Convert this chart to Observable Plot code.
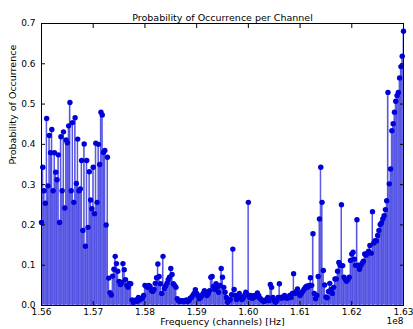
<!DOCTYPE html>
<html>
<head>
<meta charset="utf-8">
<script src="https://cdn.jsdelivr.net/npm/d3@7"></script>
<script src="https://cdn.jsdelivr.net/npm/@observablehq/plot@0.6"></script>
<style>
  html, body { margin: 0; padding: 0; background: #fff; }
  #chart { width: 413px; height: 329px; }
</style>
</head>
<body>
<div id="chart"></div>
<script>
const title = "Probability of Occurrence per Channel";
const xLabel = "Frequency (channels) [Hz]";
const yLabel = "Probability of Occurrence";
const offsetLabel = "1e8";

const channelStartHz = 156.0e6;
const channelWidthHz = 25e3;

const xTicks = [1.56, 1.57, 1.58, 1.59, 1.60, 1.61, 1.62, 1.63];
const yTicks = [0.0, 0.1, 0.2, 0.3, 0.4, 0.5, 0.6, 0.7];

const probability = [
  0.206,0.343,0.285,0.254,0.464,0.297,0.422,0.379,0.437,0.285,
  0.379,0.331,0.312,0.374,0.206,0.419,0.285,0.431,0.242,0.411,
  0.404,0.446,0.504,0.285,0.454,0.256,0.466,0.303,0.413,0.285,
  0.289,0.36,0.186,0.401,0.147,0.36,0.194,0.332,0.262,0.24,
  0.343,0.228,0.403,0.256,0.4,0.35,0.48,0.473,0.38,0.385,
  0.2,0.368,
  0.068,0.032,0.026,0.073,0.09,0.122,0.104,0.085,0.06,0.052,0.057,0.104,0.089,0.064,0.05,
  0.045,0.055,0.054,0.014,0.008,0.012,0.014,0.01,0.02,0.014,
  0.016,0.018,0.025,0.05,0.048,0.045,0.05,0.047,0.037,0.035,
  0.04,0.055,0.069,0.103,0.072,0.054,0.03,0.122,0.042,0.048,
  0.055,0.064,0.07,0.092,0.077,0.054,0.05,0.045,0.017,0.012,
  0.01,
  0.012,0.012,0.01,0.012,0.014,0.01,0.012,0.018,0.02,0.025,
  0.03,0.039,0.03,0.025,0.017,0.02,0.025,0.03,0.037,0.032,
  0.025,0.03,0.037,0.07,0.072,0.047,0.04,0.054,0.045,0.033,
  0.05,0.092,0.07,0.045,0.033,0.02,
  0.008,0.012,0.015,0.027,0.14,0.04,0.025,0.015,0.02,0.03,
  0.02,0.015,0.018,0.025,0.033,0.028,0.256,0.02,0.025,0.018,
  0.02,0.025,0.022,0.031,0.025,0.018,0.015,0.012,0.01,0.012,
  0.015,0.02,0.012,0.052,0.045,0.02,0.012,0.008,
  0.012,0.02,0.054,0.02,0.018,0.022,0.025,0.02,0.018,0.02,
  0.025,0.02,0.03,0.079,0.03,0.035,0.041,0.03,0.025,0.03,
  0.035,0.04,0.045,0.048,0.045,0.05,0.069,0.05,0.178,0.03,
  0.017,0.025,0.072,0.215,0.343,0.256,0.087,
  0.051,0.021,0.019,0.035,0.055,0.04,0.03,0.045,0.066,0.066,
  0.085,0.107,0.1,0.25,0.099,0.07,0.065,0.06,0.065,0.07,
  0.112,0.128,0.132,0.115,0.1,0.213,0.1,0.09,0.099,0.105,
  0.11,0.128,0.125,0.13,0.135,0.149,0.13,0.233,
  0.155,0.161,0.16,0.174,0.186,0.201,0.205,0.215,0.223,0.238,
  0.26,0.529,0.302,0.339,0.434,0.451,0.48,0.507,0.521,0.529,
  0.565,0.593,0.619,0.681
];

const step = channelWidthHz / 1e8;
const data = probability.map((p, i) => ({
  f: (channelStartHz + i * channelWidthHz) / 1e8,
  p
}));

const chart = Plot.plot({
  width: 413,
  height: 329,
  marginLeft: 41,
  marginRight: 10,
  marginTop: 23,
  marginBottom: 24,
  style: { fontFamily: "DejaVu Sans", fontSize: "9px", background: "#fff", color: "#000" },
  x: { domain: [1.56, 1.63], label: null },
  y: { domain: [0, 0.7], label: null },
  marks: [
    Plot.rectY(data, {
      x1: d => d.f - step / 2, x2: d => d.f + step / 2, y: "p",
      fill: "#5a5ae0", fillOpacity: 0.85, stroke: "#fff", strokeWidth: 0.2, clip: true
    }),
    Plot.ruleX(data, { x: "f", y1: 0, y2: "p", stroke: "#2a2ae0", strokeWidth: 0.9, strokeOpacity: 0.8 }),
    Plot.dot(data, { x: "f", y: "p", r: 2.7, fill: "#0000d8", stroke: "none" }),
    Plot.frame({ stroke: "#000", strokeWidth: 1 }),
    Plot.axisX({ ticks: xTicks, anchor: "bottom", tickSize: 0, tickPadding: 3, tickFormat: d => d.toFixed(2), label: null }),
    Plot.axisX({ ticks: xTicks, anchor: "bottom", tickSize: -4, tickFormat: () => "", label: null }),
    Plot.axisX({ ticks: xTicks, anchor: "top", tickSize: -4, tickFormat: () => "", label: null }),
    Plot.axisY({ ticks: yTicks, anchor: "left", tickSize: 0, tickPadding: 6, tickFormat: d => d.toFixed(1), label: null }),
    Plot.axisY({ ticks: yTicks, anchor: "left", tickSize: -4, tickFormat: () => "", label: null }),
    Plot.axisY({ ticks: yTicks, anchor: "right", tickSize: -4, tickFormat: () => "", label: null }),
    Plot.text([title], { frameAnchor: "top", dy: -9, fontSize: 9.5, fill: "#000" }),
    Plot.text([xLabel], { frameAnchor: "bottom", dy: 19.5, fontSize: 9.5, fill: "#000" }),
    Plot.text([offsetLabel], { frameAnchor: "bottom-right", dy: 18.5, textAnchor: "end", fontSize: 9, fill: "#000" }),
    Plot.text([yLabel], { frameAnchor: "left", dx: -29, rotate: -90, fontSize: 9.5, fill: "#000" })
  ]
});

document.getElementById("chart").appendChild(chart);
</script>
</body>
</html>
